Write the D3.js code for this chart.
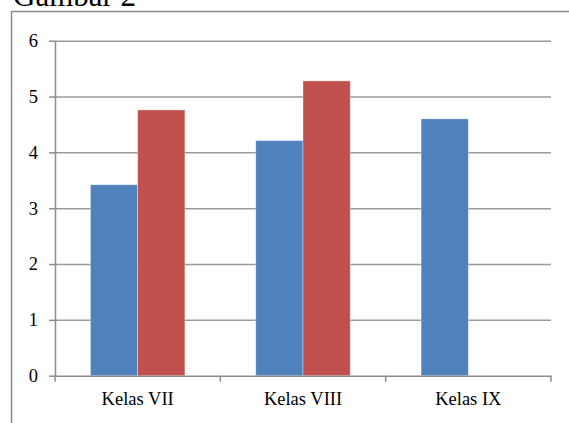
<!DOCTYPE html>
<html>
<head>
<meta charset="utf-8">
<script src="https://cdn.jsdelivr.net/npm/d3@7"></script>
<style>
  html, body { margin: 0; padding: 0; background: #fff; overflow: hidden; }
  svg { display: block; }
  svg text { font-family: "Liberation Serif", "DejaVu Serif", serif; }
  .axis path, .axis line { stroke: #8c8c8c; stroke-width: 1.5; }
  .grid line { stroke: #9a9a9a; stroke-width: 1.5; }
  .grid path { display: none; }
</style>
</head>
<body>
<svg id="chart" width="569" height="423"></svg>
<script>
// Gambar 2: grouped columns per class, two series (blue / red), Excel 2007 look.
const CATEGORIES = ["Kelas VII", "Kelas VIII", "Kelas IX"];
const SERIES = ["s1", "s2"];
const S1_VALUES = [3.42, 4.21, 4.60];
const S2_VALUES = [4.76, 5.28, null];   // Kelas IX has no red bar
const Y_TICKS = [0, 1, 2, 3, 4, 5, 6];
const COLORS = {s1: "#4f81bd", s2: "#c0504d"};

const W = 569, H = 423;
const plot = {left: 55, right: 551, top: 40.7, bottom: 375.7};

const rows = CATEGORIES.map((c, i) => ({cat: c, s1: S1_VALUES[i], s2: S2_VALUES[i]}));

const svg = d3.select("#chart");

// outer frame (runs off the right and bottom edge of the crop)
svg.append("rect")
   .attr("x", 11.5).attr("y", 11.5)
   .attr("width", W).attr("height", H)
   .attr("fill", "none").attr("stroke", "#8c8c8c").attr("stroke-width", 1.5);

// title, cut off at the top edge like in the source crop
svg.append("text")
   .attr("x", 13).attr("y", 6)
   .attr("font-size", 31).attr("fill", "#000")
   .text("Gambar 2");

const y = d3.scaleLinear().domain([0, 6]).range([plot.bottom, plot.top]);
const x0 = d3.scaleBand().domain(CATEGORIES).range([plot.left, plot.right]);
// gap width 150% -> 0.75 step of padding on each side of the pair
const x1 = d3.scaleBand().domain(SERIES).range([0, x0.bandwidth()]).paddingOuter(0.75);

// gridlines (skip 0, the axis line sits there)
svg.append("g").attr("class", "grid")
   .attr("transform", `translate(${plot.left},0)`)
   .call(d3.axisLeft(y).tickValues(Y_TICKS.filter(v => v > 0))
          .tickSize(-(plot.right - plot.left)).tickFormat(""));

// bars
const groups = svg.append("g").selectAll("g")
  .data(rows).join("g")
  .attr("transform", d => `translate(${x0(d.cat)},0)`);

groups.selectAll("rect")
  .data(d => SERIES.map(k => ({key: k, value: d[k]})).filter(v => v.value != null))
  .join("rect")
  .attr("x", d => x1(d.key))
  .attr("width", x1.bandwidth())
  .attr("y", d => y(d.value))
  .attr("height", d => y(0) - y(d.value))
  .attr("fill", d => COLORS[d.key])
  .attr("stroke", "#ffffff").attr("stroke-opacity", 0.45).attr("stroke-width", 0.8);

// y axis
const yAxis = svg.append("g").attr("class", "axis")
   .attr("transform", `translate(${plot.left},0)`)
   .call(d3.axisLeft(y).tickValues(Y_TICKS).tickFormat(d3.format("d"))
          .tickSize(6).tickPadding(11).tickSizeOuter(0))
   .attr("font-family", null).attr("font-size", null);
yAxis.selectAll("text").attr("fill", "#000").style("font-size", "18.5px");

// x axis: labels at band centres, tick marks at category boundaries
const xAxis = svg.append("g").attr("class", "axis")
   .attr("transform", `translate(0,${plot.bottom})`)
   .call(d3.axisBottom(x0).tickSize(0).tickPadding(16).tickSizeOuter(0))
   .attr("font-family", null).attr("font-size", null);
xAxis.selectAll("text").attr("fill", "#000").style("font-size", "18.5px");

const bounds = CATEGORIES.map(c => x0(c)).concat([x0(CATEGORIES[CATEGORIES.length - 1]) + x0.step()]);
xAxis.selectAll("line.bound")
   .data(bounds).join("line").attr("class", "bound")
   .attr("x1", d => d).attr("x2", d => d)
   .attr("y1", 0).attr("y2", 6)
   .attr("stroke", "#8c8c8c").attr("stroke-width", 1.5);
</script>
</body>
</html>
